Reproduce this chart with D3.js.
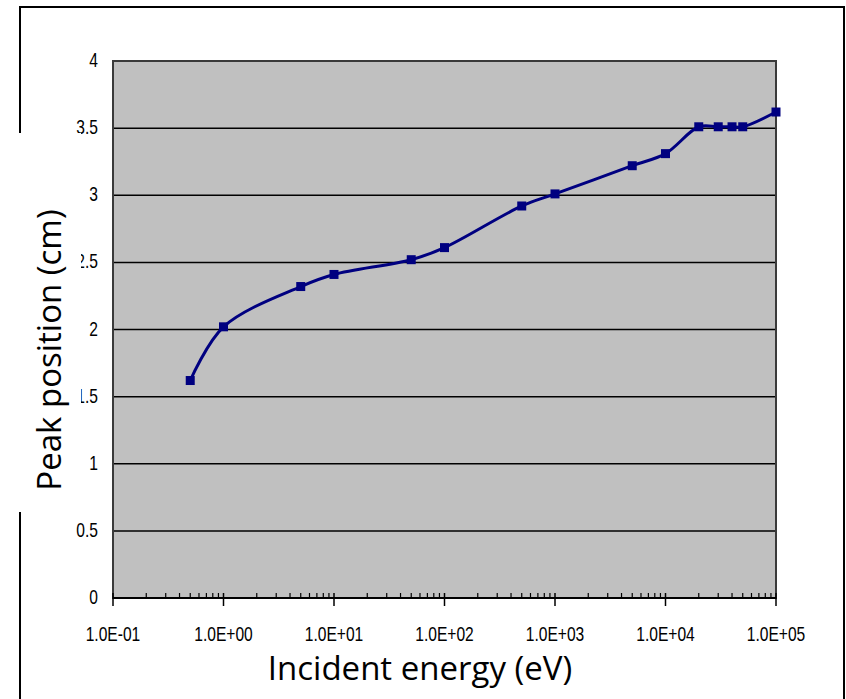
<!DOCTYPE html>
<html>
<head>
<meta charset="utf-8">
<script src="https://cdn.jsdelivr.net/npm/d3@7"></script>
<style>
  body { margin: 0; background: #fff; }
  .tick-label { font-family: "Liberation Sans", sans-serif; font-size: 20px; fill: #000; }
  .title { font-family: "Open Sans", "Noto Sans", sans-serif; font-size: 33px; fill: #000; }
</style>
</head>
<body>
<div id="container"></div>
<script>
// Data
const energies = [0.5, 1, 5, 10, 50, 100, 500, 1000, 5000, 10000, 20000, 30000, 40000, 50000, 100000];
const peaks = [1.62, 2.02, 2.32, 2.41, 2.52, 2.61, 2.92, 3.01, 3.22, 3.31, 3.51, 3.51, 3.51, 3.51, 3.62];
const xTicks = [0.1, 1, 10, 100, 1000, 10000, 100000];
const xTickLabels = ["1.0E-01", "1.0E+00", "1.0E+01", "1.0E+02", "1.0E+03", "1.0E+04", "1.0E+05"];
const yTicks = [0, 0.5, 1, 1.5, 2, 2.5, 3, 3.5, 4];
const yTickLabels = ["0", "0.5", "1", "1.5", "2", "2.5", "3", "3.5", "4"];

const data = energies.map((e, i) => ({ energy: e, peak: peaks[i] }));

const W = 846, H = 699;
const plot = { left: 113, right: 776, top: 61, bottom: 598 };
const squeeze = 0.78; // tick labels are drawn narrow

const svg = d3.select("#container").append("svg")
    .attr("width", W)
    .attr("height", H);

// outer frame
svg.append("rect")
    .attr("x", 20).attr("y", 7)
    .attr("width", 824).attr("height", 720)
    .attr("fill", "#fff")
    .attr("stroke", "#000")
    .attr("stroke-width", 2);

const x = d3.scaleLog().domain([0.1, 100000]).range([plot.left, plot.right]);
const y = d3.scaleLinear().domain([0, 4]).range([plot.bottom, plot.top]);

// plot area
svg.append("rect")
    .attr("x", plot.left).attr("y", plot.top)
    .attr("width", plot.right - plot.left)
    .attr("height", plot.bottom - plot.top)
    .attr("fill", "#c0c0c0");

// gridlines
svg.selectAll(".grid")
    .data(yTicks.filter(d => d > 0 && d < 4))
    .enter().append("line")
    .attr("x1", plot.left).attr("x2", plot.right)
    .attr("y1", d => y(d)).attr("y2", d => y(d))
    .attr("stroke", "#000")
    .attr("stroke-width", 1.5);

// plot border
svg.append("rect")
    .attr("x", plot.left).attr("y", plot.top)
    .attr("width", plot.right - plot.left)
    .attr("height", plot.bottom - plot.top)
    .attr("fill", "none")
    .attr("stroke", "#3a3a3a")
    .attr("stroke-width", 2);

// x axis line and ticks
svg.append("line")
    .attr("x1", plot.left).attr("x2", plot.right)
    .attr("y1", plot.bottom).attr("y2", plot.bottom)
    .attr("stroke", "#000").attr("stroke-width", 2);

const minorTicks = [];
xTicks.slice(0, -1).forEach(t => {
    for (let k = 2; k <= 9; k++) minorTicks.push(t * k);
});

svg.selectAll(".minor")
    .data(minorTicks)
    .enter().append("line")
    .attr("x1", d => x(d)).attr("x2", d => x(d))
    .attr("y1", plot.bottom - 5).attr("y2", plot.bottom)
    .attr("stroke", "#000").attr("stroke-width", 1.2);

svg.selectAll(".major")
    .data(xTicks)
    .enter().append("line")
    .attr("x1", d => x(d)).attr("x2", d => x(d))
    .attr("y1", plot.bottom - 5).attr("y2", plot.bottom + 8)
    .attr("stroke", "#000").attr("stroke-width", 1.5);

svg.selectAll(".xlabel")
    .data(xTicks)
    .enter().append("text")
    .attr("class", "tick-label")
    .attr("transform", d => `translate(${x(d)},${plot.bottom + 43}) scale(${squeeze},1)`)
    .attr("text-anchor", "middle")
    .text((d, i) => xTickLabels[i]);

svg.selectAll(".ylabel")
    .data(yTicks)
    .enter().append("text")
    .attr("class", "tick-label")
    .attr("transform", d => `translate(98,${y(d) + 6}) scale(${squeeze},1)`)
    .attr("text-anchor", "end")
    .text((d, i) => yTickLabels[i]);

// smoothed series line
const line = d3.line()
    .x(d => x(d.energy))
    .y(d => y(d.peak))
    .curve(d3.curveCatmullRom.alpha(0.5));

svg.append("path")
    .datum(data)
    .attr("d", line)
    .attr("fill", "none")
    .attr("stroke", "#000080")
    .attr("stroke-width", 3);

svg.selectAll(".marker")
    .data(data)
    .enter().append("rect")
    .attr("x", d => x(d.energy) - 4.5)
    .attr("y", d => y(d.peak) - 4.5)
    .attr("width", 9).attr("height", 9)
    .attr("fill", "#000080");

// white box behind the y title (covers part of the frame and labels)
svg.append("rect")
    .attr("x", 10).attr("y", 133)
    .attr("width", 71).attr("height", 379)
    .attr("fill", "#fff");

svg.append("text")
    .attr("class", "title")
    .attr("transform", "translate(61,350) rotate(-90)")
    .attr("text-anchor", "middle")
    .text("Peak position (cm)");

svg.append("text")
    .attr("class", "title")
    .attr("x", 420)
    .attr("y", 680)
    .attr("text-anchor", "middle")
    .text("Incident energy (eV)");
</script>
</body>
</html>
